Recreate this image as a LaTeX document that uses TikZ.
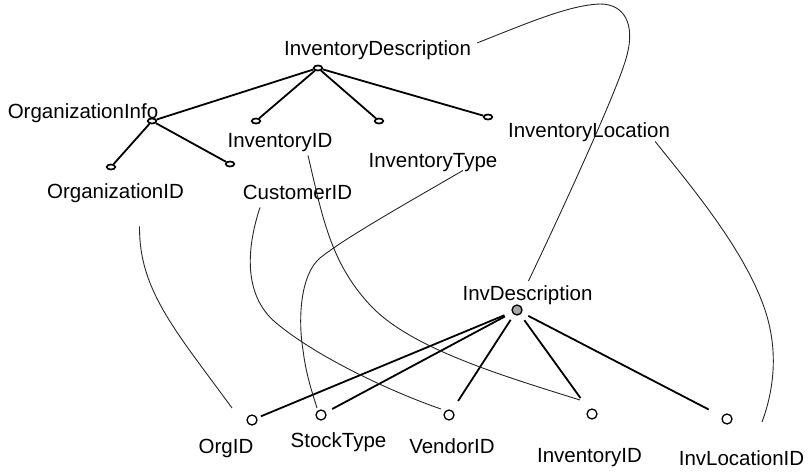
\documentclass[tikz,border=0pt]{standalone}
\usepackage{fontspec}
\setmainfont{Liberation Sans}
\usetikzlibrary{calc,shapes.geometric}
\begin{document}
\begin{tikzpicture}[x=1pt,y=-1pt,
 lbl/.style={font=\fontsize{20.5}{24}\selectfont, inner sep=0pt, anchor=base},
 tdot/.style={ellipse, draw, line width=1.7pt, fill=white, minimum width=8.5pt, minimum height=5pt, inner sep=0pt},
 bdot/.style={circle, draw, line width=1.3pt, fill=white, minimum size=10pt, inner sep=0pt},
 tedge/.style={line width=1.8pt},
 bedge/.style={line width=1.8pt},
 link/.style={line width=0.9pt, black!85}]
\useasboundingbox (0,0) rectangle (808,471);
% top tree labels
\node[lbl] (idesc) at (377.5,55) {InventoryDescription};
\node[lbl] (oinfo) at (83,118) {OrganizationInfo};
\node[lbl] (iid) at (280,147) {InventoryID};
\node[lbl] (itype) at (433,167) {InventoryType};
\node[lbl] (iloc) at (589,137) {InventoryLocation};
\node[lbl] (orgid) at (115.5,198) {OrganizationID};
\node[lbl] (custid) at (297.5,199) {CustomerID};
% top tree dots
\node[tdot] (d0) at (318,68) {};
\node[tdot] (d1) at (152,121) {};
\node[tdot] (d2) at (256,121) {};
\node[tdot] (d3) at (379,121) {};
\node[tdot] (d4) at (488,117) {};
\node[tdot] (d11) at (111,167) {};
\node[tdot] (d12) at (230,164) {};
\draw[tedge] (d0) -- (d1);
\draw[tedge] (d0) -- (d2);
\draw[tedge] (d0) -- (d3);
\draw[tedge] (d0) -- (d4);
\draw[tedge] (d1) -- (d11);
\draw[tedge] (d1) -- (d12);
% bottom tree labels
\node[lbl] (invd) at (527.5,300) {InvDescription};
\node[lbl] (lorg) at (226,453) {OrgID};
\node[lbl] (lstock) at (338.5,447) {StockType};
\node[lbl] (lvend) at (452,453) {VendorID};
\node[lbl] (liid) at (589.5,462) {InventoryID};
\node[lbl] (lloc) at (741.5,465) {InvLocationID};
% bottom tree circles
\node[bdot, fill=black!35] (b0) at (517,310) {};
\node[bdot] (b1) at (252,420) {};
\node[bdot] (b2) at (321,415) {};
\node[bdot] (b3) at (449,415) {};
\node[bdot] (b4) at (592,414) {};
\node[bdot] (b5) at (727,419) {};
\draw[bedge, shorten <=8pt, shorten >=4pt] (b0) -- (b1);
\draw[bedge, shorten <=8pt, shorten >=7pt] (b0) -- (b2);
\draw[bedge, shorten <=6pt, shorten >=11pt] (b0) -- (b3);
\draw[bedge, shorten <=7pt, shorten >=14pt] (b0) -- (b4);
\draw[bedge, shorten <=7pt, shorten >=15pt] (b0) -- (b5);
% mapping curves
\draw[link] ($(idesc.north east)+(6,3)$) .. controls (530,22) and (570,5) .. (600,4)
  .. controls (625,4) and (635,25) .. (627,55)
  .. controls (620,85) and (560,215) .. ($(invd.north)+(1,-4)$);
\draw[link] ($(iloc.south east)+(-15,0)$) .. controls (690,185) and (745,250) .. (765,310)
  .. controls (780,355) and (772,395) .. ($(b5)+(35,3)$);
\draw[link] ($(orgid.south)+(24,24)$) .. controls (139,290) and (175,330) .. ($(b1)+(-20,-12)$);
\draw[link] ($(custid.south)+(-37.5,8)$) .. controls (246,250) and (244,295) .. (275,322)
  .. controls (320,360) and (400,395) .. ($(b3)+(-8,-6)$);
\draw[link] ($(iid.south)+(28,4)$) .. controls (322,215) and (330,262) .. (370,305)
  .. controls (410,348) and (500,375) .. ($(b4)+(-12,-14)$);
\draw[link] ($(itype.south)+(30,-1)$) .. controls (400,207) and (345,238) .. (320,258)
  .. controls (300,275) and (298,320) .. (303,350)
  .. controls (306,375) and (313,395) .. ($(b2)+(-4,-7)$);
\end{tikzpicture}
\end{document}
